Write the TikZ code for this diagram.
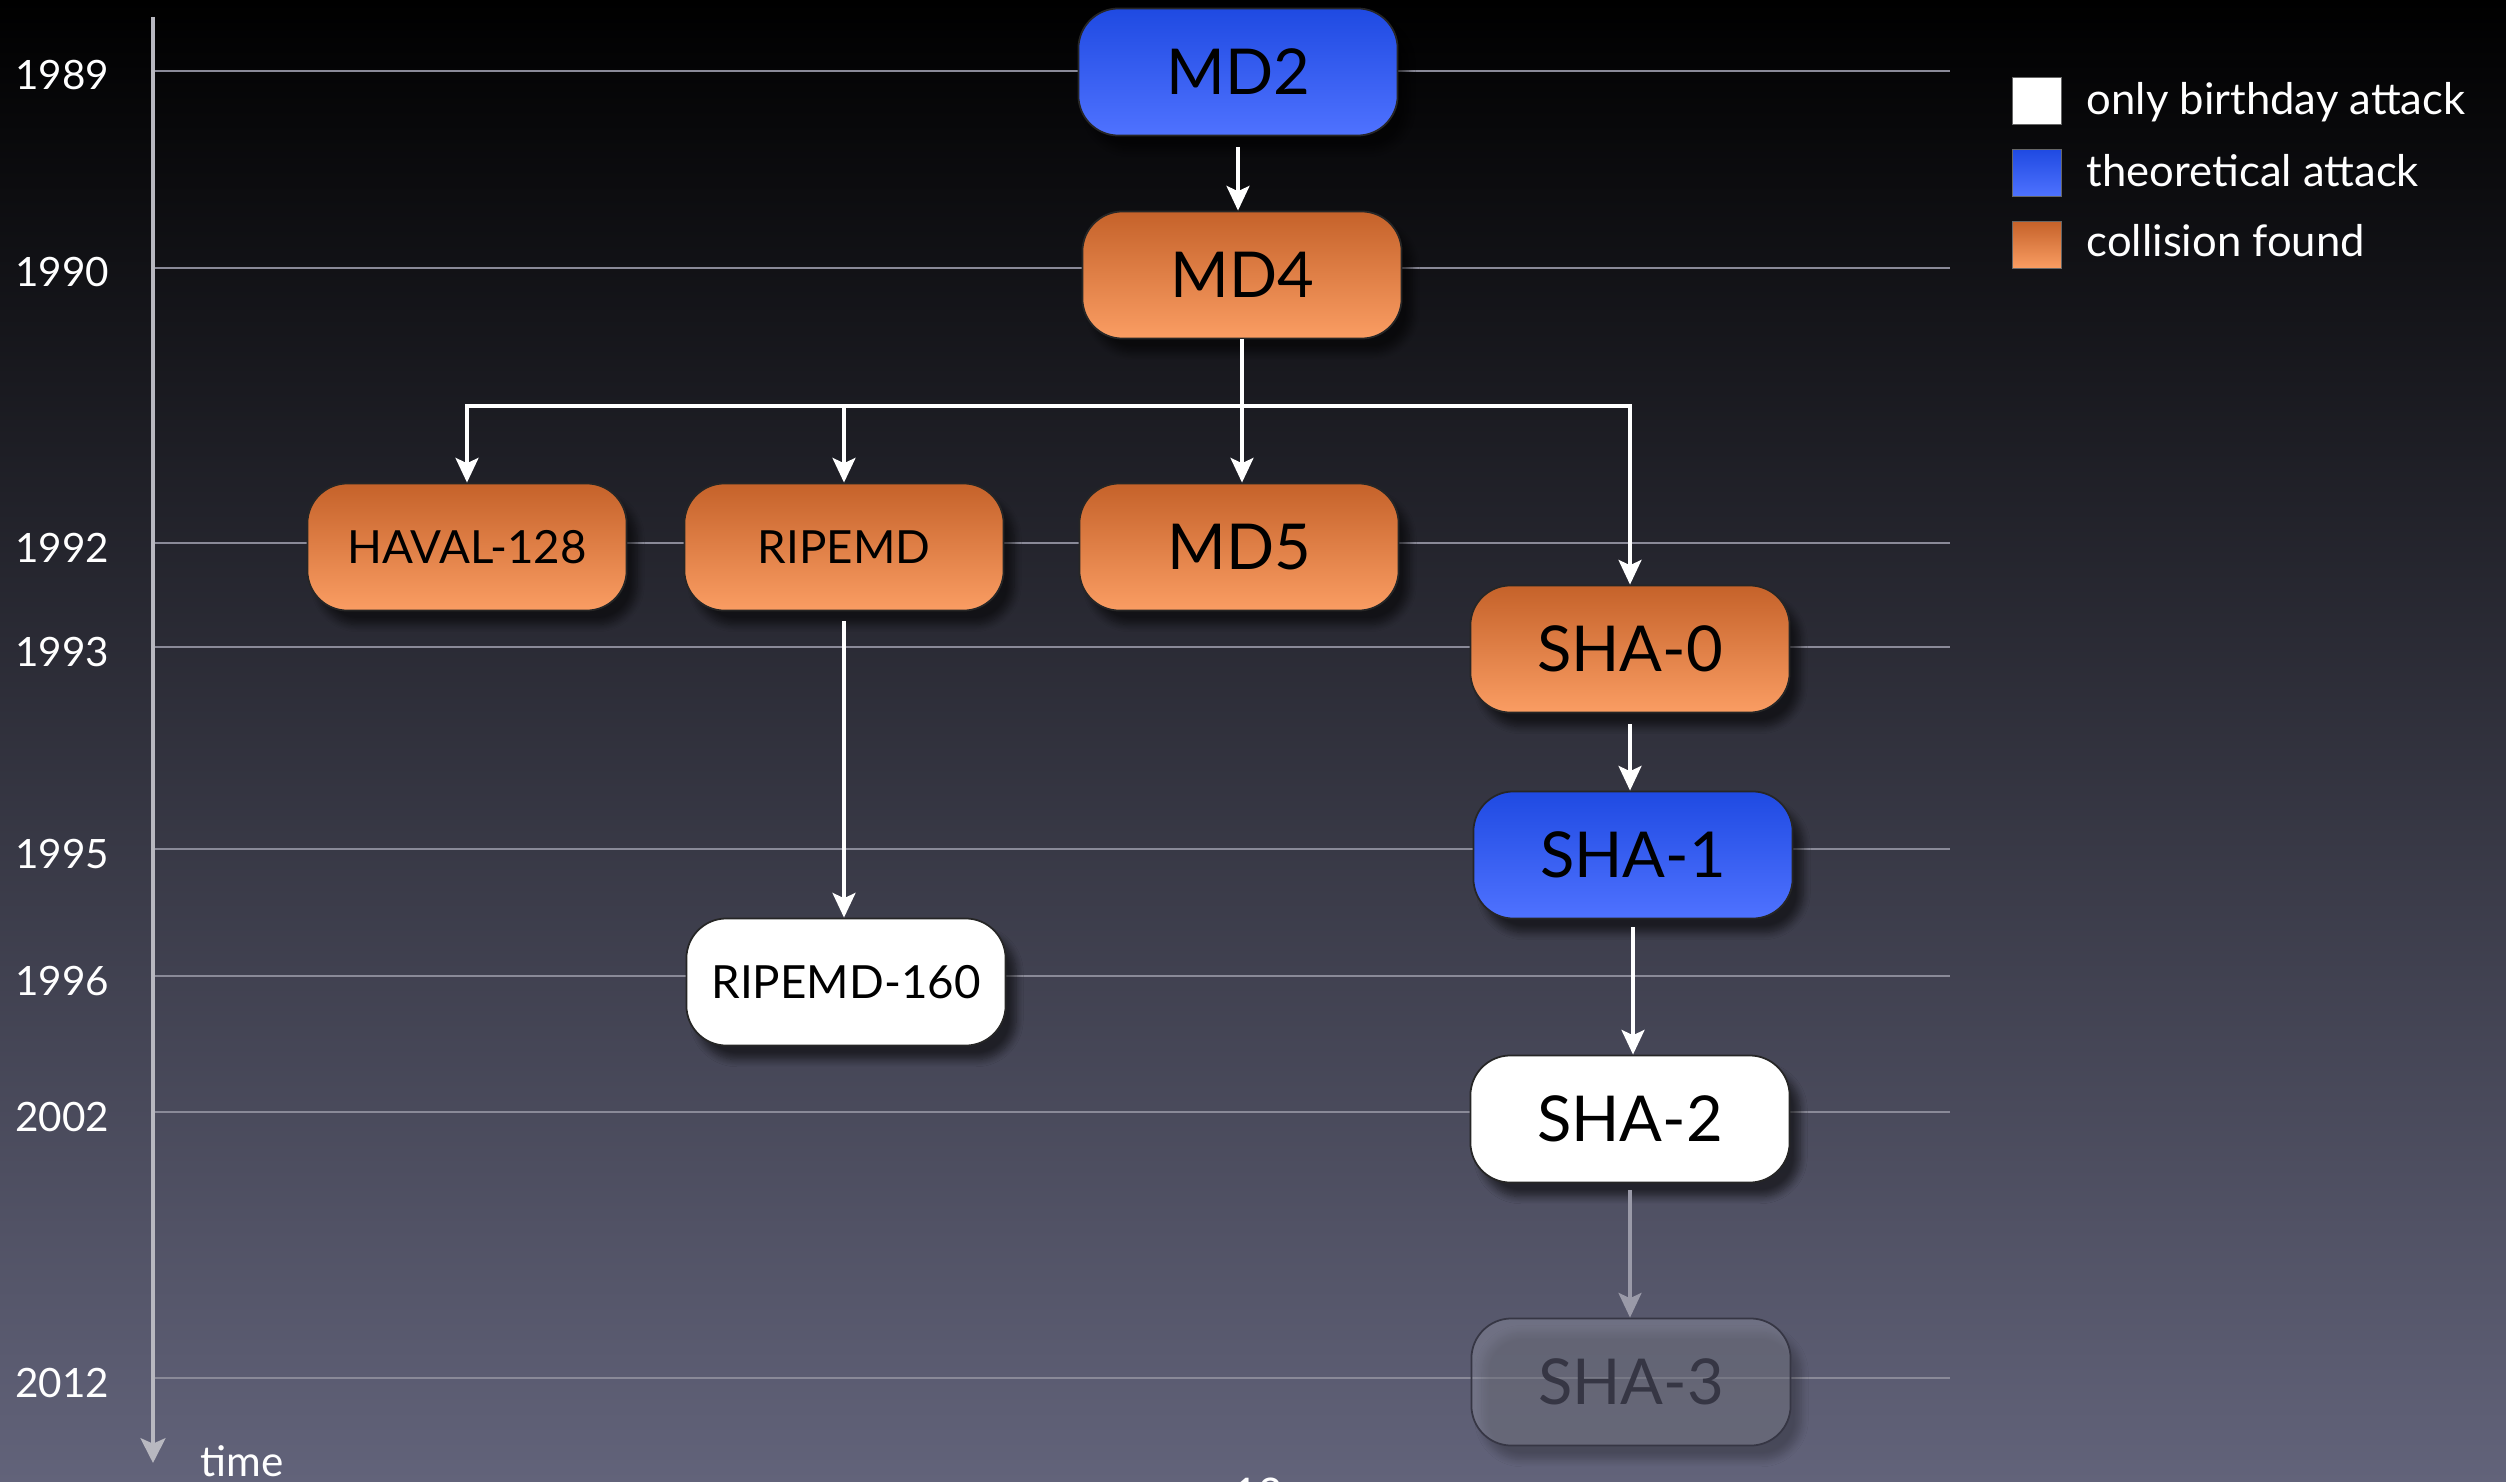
\documentclass[tikz,border=0pt]{standalone}
\usepackage{fontspec}
\setmainfont{Lato}
\usetikzlibrary{arrows.meta,shadows.blur}

\definecolor{bgtop}{HTML}{000000}
\definecolor{bgmid}{HTML}{262648}
\definecolor{bgbot}{HTML}{62637A}
\definecolor{gridc}{HTML}{8A8A98}
\definecolor{axisc}{HTML}{B8B8C0}
\definecolor{bluetop}{HTML}{1F4AE2}
\definecolor{bluebot}{HTML}{4F72FF}
\definecolor{orgtop}{HTML}{C5622A}
\definecolor{orgbot}{HTML}{FA9D63}
\definecolor{futfill}{HTML}{8C8E9E}
\definecolor{futtext}{HTML}{363644}
\definecolor{futline}{HTML}{9A9AA8}

\begin{document}
\begin{tikzpicture}[x=0.01cm,y=-0.01cm,
  hashbox/.style={rounded corners=0.4cm, minimum width=3.19cm, minimum height=1.27cm,
    draw=black!85, line width=0.5pt, inner sep=0pt,
    blur shadow={shadow xshift=3pt, shadow yshift=-4pt, shadow opacity=55, shadow blur steps=8}},
  bigtext/.style={font=\fontsize{18}{20}\selectfont},
  smalltext/.style={font=\fontsize{13}{15}\selectfont},
  collision/.style={hashbox, top color=orgtop, bottom color=orgbot},
  theory/.style={hashbox, top color=bluetop, bottom color=bluebot},
  birthday/.style={hashbox, fill=white},
  future/.style={hashbox, draw=futtext, fill=futfill, fill opacity=0.45, text opacity=1, text=futtext},
  yearline/.style={draw=gridc, line width=0.7pt},
  yearlabel/.style={text=white, anchor=base east, inner sep=0pt, font=\fontsize{11.5}{14}\selectfont},
  conn/.style={draw=white, line width=1.1pt, -{Stealth[length=7pt,width=6.5pt,inset=1.5pt]}},
  legendsq/.style={minimum width=0.49cm, minimum height=0.47cm, inner sep=0pt, draw=black!60, line width=0.3pt},
  legendtext/.style={text=white, anchor=base west, inner sep=0pt, font=\fontsize{12.4}{14}\selectfont},
]
% background
\useasboundingbox (0,0) rectangle (2506,1482);
\shade[top color=bgtop, middle color=bgmid, bottom color=bgbot] (0,0) rectangle (2506,1482);

% year grid
\foreach \yr/\yy in {1989/71,1990/268,1992/543,1993/647,1995/849,1996/976,2002/1112,2012/1378}{
  \draw[yearline] (155,\yy) -- (1950,\yy);
  \node[yearlabel] (y\yr) at (110,\yy+19) {\yr};
}

% time axis
\coordinate (axtop) at (153,17);
\coordinate (axend) at (153,1463);
\draw[draw=axisc, line width=1.4pt, -{Stealth[length=7pt,width=7pt,inset=1.5pt]}] (axtop) -- (axend);
\node[text=white, anchor=base west, inner sep=0pt, font=\fontsize{12}{14}\selectfont] (timelbl) at (200,1476) {time};
\node[text=white, anchor=north west, inner sep=0pt, font=\fontsize{12}{14}\selectfont] (pgno) at (1233,1477) {12};

% hash functions
\node[theory, bigtext]       (md2)    at (1238,72)   {MD2};
\node[collision, bigtext]    (md4)    at (1242,275)  {MD4};
\node[collision, smalltext]  (haval)  at (467,547)   {HAVAL-128};
\node[collision, smalltext]  (ripemd) at (844,547)   {RIPEMD};
\node[collision, bigtext]    (md5)    at (1239,547)  {MD5};
\node[collision, bigtext]    (sha0)   at (1630,649)  {SHA-0};
\node[theory, bigtext]       (sha1)   at (1633,855)  {SHA-1};
\node[birthday, smalltext]   (rip160) at (846,982)   {RIPEMD-160};
\node[birthday, bigtext]     (sha2)   at (1630,1119) {SHA-2};
\node[future, bigtext]       (sha3)   at (1631,1382) {SHA-3};

% derivation arrows
\coordinate (bus) at (1242,406);
\draw[conn, shorten <=0.11cm] (md2.south) -- (md2.south |- md4.north);
\draw[conn] (md4.south) -- (md4.south |- md5.north);
\draw[conn] (bus) -| (haval.north);
\draw[conn] (bus) -| (ripemd.north);
\draw[conn] (bus) -| (sha0.north);
\draw[conn, shorten <=0.1cm] (ripemd.south) -- (ripemd.south |- rip160.north);
\draw[conn, shorten <=0.11cm] (sha0.south) -- (sha0.south |- sha1.north);
\draw[conn, shorten <=0.08cm] (sha1.south) -- (sha1.south |- sha2.north);
\draw[conn, draw=futline, shorten <=0.07cm] (sha2.south) -- (sha2.south |- sha3.north);

% legend
\node[legendsq, fill=white] (lgw) at (2037,101) {};
\node[legendsq, top color=bluetop, bottom color=bluebot] (lgb) at (2037,173) {};
\node[legendsq, top color=orgtop, bottom color=orgbot] (lgo) at (2037,245) {};
\node[legendtext] (lgwt) at (2086,115) {only birthday attack};
\node[legendtext] (lgbt) at (2086,187) {theoretical attack};
\node[legendtext] (lgot) at (2086,257) {collision found};
\end{tikzpicture}
\end{document}
